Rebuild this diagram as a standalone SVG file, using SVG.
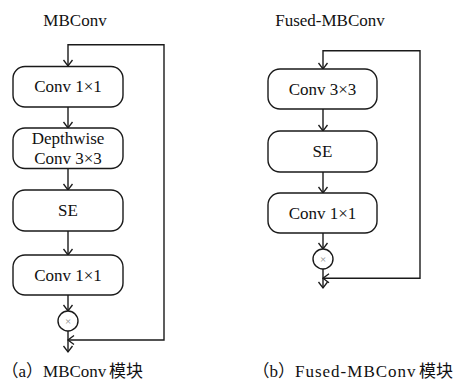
<svg xmlns="http://www.w3.org/2000/svg" width="453" height="384" viewBox="0 0 453 384">
<defs>
<marker id="arr" viewBox="-8 -6 10 12" markerWidth="10" markerHeight="12" refX="0" refY="0" orient="auto-start-reverse" markerUnits="userSpaceOnUse">
<path d="M-6,-4.5 L0,0 L-6,4.5" fill="none" stroke="#1a1a1a" stroke-width="1.3"/>
</marker>
<style>
.box{fill:#fff;stroke:#1a1a1a;stroke-width:1.4}
.ln{fill:none;stroke:#1a1a1a;stroke-width:1.4}
.t{font-size:17px;fill:#111;text-anchor:middle}
.x{font-size:11px;fill:#888;text-anchor:middle}
.cap{font-size:17px;fill:#111}
</style>
</defs>
<rect width="453" height="384" fill="#fff"/>
<g font-family="Liberation Serif, Times New Roman, DejaVu Serif, serif">
<text class="t" x="75" y="26">MBConv</text>
<text class="t" x="330" y="26">Fused-MBConv</text>
</g>
<g id="connectors">
<path class="ln" d="M68,340 H164 V44.7 H68 V66" marker-start="url(#arr)" marker-end="url(#arr)"/>
<path class="ln" d="M68,107 V128" marker-end="url(#arr)"/>
<path class="ln" d="M68,168 V190" marker-end="url(#arr)"/>
<path class="ln" d="M68,231 V255" marker-end="url(#arr)"/>
<path class="ln" d="M68,295 V311" marker-end="url(#arr)"/>
<path class="ln" d="M68,331 V352" marker-end="url(#arr)"/>
<path class="ln" d="M323,278.3 H420 V50.7 H323 V69" marker-start="url(#arr)" marker-end="url(#arr)"/>
<path class="ln" d="M323,109 V131" marker-end="url(#arr)"/>
<path class="ln" d="M323,172 V193" marker-end="url(#arr)"/>
<path class="ln" d="M323,233 V249" marker-end="url(#arr)"/>
<path class="ln" d="M323,269 V288" marker-end="url(#arr)"/>
</g>
<g font-family="Liberation Serif, Times New Roman, DejaVu Serif, serif">
<g id="a-conv1">
<rect class="box" x="13" y="66.5" width="110" height="40.5" rx="12"/>
<text class="t" x="68" y="92">Conv 1×1</text>
</g>
<g id="a-dw">
<rect class="box" x="13" y="128" width="110" height="40.5" rx="12"/>
<text class="t" x="68" y="144">Depthwise</text>
<text class="t" x="68" y="164">Conv 3×3</text>
</g>
<g id="a-se">
<rect class="box" x="13" y="190" width="110" height="41" rx="12"/>
<text class="t" x="68" y="216">SE</text>
</g>
<g id="a-conv2">
<rect class="box" x="13" y="255" width="110" height="40" rx="12"/>
<text class="t" x="68" y="281">Conv 1×1</text>
</g>
<g id="a-mul">
<circle class="box" cx="68" cy="321" r="10"/>
<text class="x" x="68" y="325">×</text>
</g>
<g id="b-conv3">
<rect class="box" x="268" y="69" width="109" height="40" rx="12"/>
<text class="t" x="322.5" y="95">Conv 3×3</text>
</g>
<g id="b-se">
<rect class="box" x="268" y="131" width="109" height="41" rx="12"/>
<text class="t" x="322.5" y="157">SE</text>
</g>
<g id="b-conv1">
<rect class="box" x="268" y="193" width="109" height="40" rx="12"/>
<text class="t" x="322.5" y="219">Conv 1×1</text>
</g>
<g id="b-mul">
<circle class="box" cx="323" cy="259" r="10"/>
<text class="x" x="323" y="263">×</text>
</g>
</g>
<g font-family="Liberation Serif, Noto Sans CJK SC, serif">
<text class="cap" x="1.5" y="377">（a）MBConv <tspan x="109">模块</tspan></text>
<text class="cap" x="252.5" y="377">（b）<tspan letter-spacing="1">Fused-MBConv</tspan> <tspan x="419">模块</tspan></text>
</g>
</svg>
